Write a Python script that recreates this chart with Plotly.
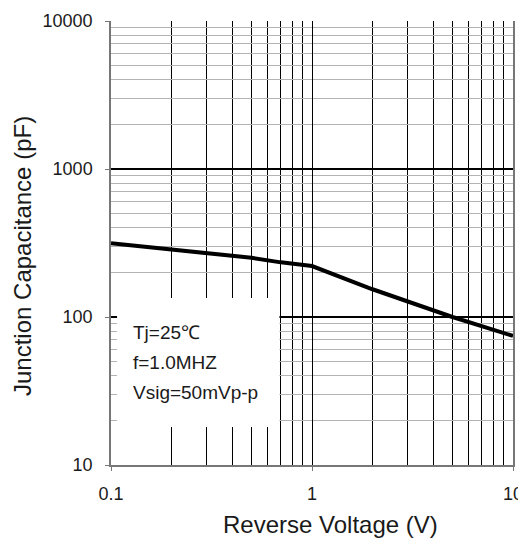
import plotly.graph_objects as go

voltage = [0.1, 0.2, 0.3, 0.5, 0.7, 1, 2, 3, 4, 5, 10]
capacitance = [315, 287, 269, 251, 234, 221, 154, 127, 111, 100, 74.5]

x_tickvals = [0.1, 1, 10]
x_ticktext = ["0.1", "1", "10"]
y_tickvals = [10, 100, 1000, 10000]
y_ticktext = ["10", "100", "1000", "10000"]

notes = ["Tj=25℃", "f=1.0MHZ", "Vsig=50mVp-p"]
x_title = "Reverse Voltage (V)"
y_title = "Junction Capacitance (pF)"

FONT = "Liberation Sans, Arial, sans-serif"

fig = go.Figure()
fig.add_trace(go.Scatter(x=voltage, y=capacitance, mode="lines",
                         line=dict(color="black", width=4), showlegend=False))

# page body has an 8px default margin, so the figure is sized/placed to compensate
fig.update_layout(
    width=518, height=530,
    margin=dict(l=103, r=13, t=13, b=73),
    plot_bgcolor="white", paper_bgcolor="white",
    font=dict(family=FONT, size=18, color="#1a1a1a"),
    xaxis=dict(type="log", range=[-1, 1], tickvals=x_tickvals, ticktext=x_ticktext,
               showgrid=True, gridcolor="black", gridwidth=1,
               minor=dict(dtick="D1", showgrid=True, gridcolor="black", gridwidth=1, ticks=""),
               showline=True, linecolor="#777", linewidth=1.5,
               ticks="outside", ticklen=4, tickcolor="#777", ticklabelstandoff=8,
               automargin=False, zeroline=False),
    yaxis=dict(type="log", range=[1, 4], tickvals=y_tickvals, ticktext=y_ticktext,
               showgrid=True, gridcolor="black", gridwidth=1.6,
               minor=dict(dtick="D1", showgrid=True, gridcolor="#b3b3b3", gridwidth=1.2, ticks=""),
               showline=True, linecolor="#777", linewidth=1.5, mirror=True,
               ticks="outside", ticklen=4, tickcolor="#777", ticklabelstandoff=9,
               automargin=False, zeroline=False),
)

# axis titles
fig.add_annotation(xref="paper", yref="paper", x=0.545, y=-0.1329, xanchor="center", yanchor="middle",
                   text=x_title, showarrow=False, font=dict(family=FONT, size=24, color="#1a1a1a"))
fig.add_annotation(xref="paper", yref="paper", x=-0.2214, y=0.4707, xanchor="center", yanchor="middle",
                   text=y_title, textangle=-90, showarrow=False,
                   font=dict(family=FONT, size=24, color="#1a1a1a"))

# white box for the conditions text
fig.add_shape(type="rect", xref="paper", yref="paper", x0=0.015, x1=0.419, y0=0.0856, y1=0.376,
              fillcolor="white", line=dict(width=0), layer="above")

for i, t in enumerate(notes):
    fig.add_annotation(xref="paper", yref="paper", x=0.05, y=0.2995 - i * 0.0685,
                       xanchor="left", yanchor="middle", text=t, showarrow=False,
                       font=dict(family=FONT, size=19, color="#1a1a1a"))

fig.write_html("out.html")
